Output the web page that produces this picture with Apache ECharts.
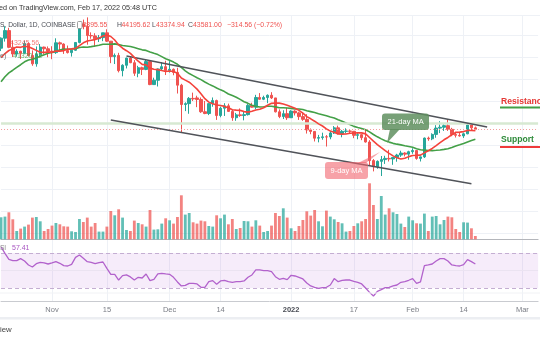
<!DOCTYPE html>
<html><head><meta charset="utf-8">
<script src="https://cdn.jsdelivr.net/npm/echarts@6/dist/echarts.min.js"></script>
<style>html,body{margin:0;padding:0;background:#fff}#c{width:540px;height:340px}</style>
</head><body><div id="c"></div><script>
// ---------- DATA ----------
const startDate = [2021, 9, 19];   // Oct 19 2021 (first visible day)
const dayCount = 138;              // days on the time axis (incl. empty right margin)
// daily candles [open, close, low, high]
const candles = [
[62000,64280,61350,64450],[64280,66000,63500,67000],[66000,62200,62000,66640],[62200,60690,60000,63700],
[60690,61300,60100,61750],[61300,60860,59550,61450],[60860,63080,60650,63700],[63080,60330,60100,63300],
[60330,58450,58000,61500],[58450,60600,57800,62400],[60600,62250,60200,62950],[62250,61870,60700,62350],
[61870,61320,59950,62400],[61320,61000,59500,62450],[61000,63220,60700,64250],[63220,62950,61600,63500],
[62950,61450,60700,63100],[61450,61000,60800,62600],[61000,61530,60100,61600],[61530,63300,61400,63300],
[63300,67550,63100,67750],[67550,66950,66300,68500],[66950,64880,62800,69000],[64880,64800,64150,65600],
[64800,64150,62300,65400],[64150,64400,63400,65000],[64400,65500,63600,65500],[65500,63600,63400,66300],
[63600,60100,58600,63600],[60100,60360,58400,60800],[60360,56900,56500,60950],[56900,58120,55600,58350],
[58120,59750,57400,59850],[59750,58700,58600,60000],[58700,56300,55700,59300],[56300,57570,55400,58000],
[57570,57170,55900,57800],[57170,58960,57000,59400],[58960,53730,53600,59150],[53730,54720,53650,55300],
[54720,57280,53300,57400],[57280,57800,57000,58850],[57800,56950,55900,59150],[56950,57200,56450,59050],
[57200,56500,55850,57400],[56500,53600,51700,57550],[53600,49200,42900,53900],[49200,49400,47700,49700],
[49400,50590,47100,50900],[50590,50470,50000,51900],[50700,50350,48600,51200],[50350,47560,47300,50800],
[47560,47150,47000,50000],[47150,49400,46800,49500],[49400,50100,48700,50800],[50100,46700,45700,50300],
[46700,48350,46300,48700],[48350,48900,46600,49500],[48900,47640,47500,49400],[47640,46200,45500,48000],
[46200,46850,45500,47300],[46850,46700,46400,48300],[46700,46900,45600,47500],[46900,49000,46700,49300],
[49000,48600,48500,49600],[48600,50800,48100,51400],[50800,50400,50300,51800],[50400,50800,50200,51200],
[50800,51300,49500,51500],[51300,50700,50450,52000],[50700,47540,47400,50700],[47540,46460,46100,48100],
[46460,47120,45900,47900],[47120,46200,45700,48500],[46200,47700,46200,47900],[47700,47300,46700,47900],
[47300,46450,45700,47550],[46450,45830,45500,47500],[45830,43430,42600,47000],[43430,43080,42450,43750],
[43080,41550,40800,43150],[41550,41680,40600,42300],[41680,41850,41200,42800],[41850,41820,39650,42250],
[41820,42730,41300,43100],[42730,43900,42500,44300],[43900,42590,42400,44400],[42590,43100,41750,43400],
[43100,43180,42650,43800],[43180,43100,42600,43500],[43100,42200,41550,43200],[42200,42350,41300,42700],
[42350,41660,41100,42550],[41660,40680,40550,43500],[40680,36460,35450,41100],[36460,35070,34000,36800],
[35070,36280,34600,36500],[36280,36680,32950,37500],[36680,36960,35700,37550],[36960,36830,36250,38900],
[36830,37170,35500,37200],[37170,37710,36200,38000],[37710,38170,37300,38700],[38170,37920,37400,38350],
[37920,38480,36650,38700],[38480,38740,38000,39250],[38740,36950,36650,38850],[36950,37300,36250,37400],
[37300,41570,37050,41700],[41570,41400,40950,41900],[41400,42410,41100,42650],[42410,43840,41650,44500],
[43840,44040,42700,45400],[44040,44390,43200,44800],[44390,43560,43200,45800],[43560,42390,42000,43900],
[42390,42200,41700,43000],[42200,42070,41900,42750],[42070,42540,41600,42800],[42540,44570,42450,44750],
[44570,43900,43300,44600],[43895.55,43581,43374.94,44195.62]
];
// closes of the 21 days before the first visible candle (needed for the moving averages)
const priorCloses = [41030,41520,43790,48140,47660,48230,49250,51490,55340,53800,53970,54970,54690,57490,56010,57370,57350,61670,60880,61530,62010];
// daily volume (arbitrary units)
const volumes = [
22,22.7,27,20,8.3,10.7,12.7,14.7,21.7,22.3,18,8.3,10.3,13.7,16.3,15,13,12.7,8,7.3,
20.3,17.3,21.7,12.7,16.3,7.7,7.7,12.7,28.3,24,30,21.7,9.3,8.3,18.7,16.3,15,12.7,29.3,9.7,
10,15.7,21,19,15.7,22.3,44,24.7,26.3,17,15.7,18.7,18,13.3,12.7,24,21,24.7,15,20.3,
10.3,11.3,18.3,18,12.7,19,13.7,7.3,8.3,13.7,26.3,23.3,31,21.7,11,8.3,13.3,19.3,28,23.7,
29.3,18,13,28.7,22.7,20,17.3,16,7.7,8.3,13.3,16,18,20.3,56,34.3,20.3,43.3,24.7,31,
27,25.3,15.7,12.3,22.7,19,16,15.7,25.7,8.3,22.7,23.3,15,19.3,22.7,22,10.3,7.3,17,16.7,
11,3.3
].map(v => v * 1000);
// RSI(14)
const rsi = [
77,69.6,62.8,61.2,61.2,63.5,60.9,56.3,54,57.8,59.3,58.6,57.4,58.6,60.1,58.2,55.5,55.1,57,65,
67.7,63.9,60.1,59.3,57.8,59,59.7,52.5,45.6,45.6,39.1,44.1,44.9,42.6,39.1,42.2,41.4,46,38.4,39.9,
46,46.8,46,45.6,42.2,36.9,32.3,33,35.3,35.3,34.6,30.8,30.8,37.2,38.4,34.2,38,38.8,37.2,36.5,
37.2,37.2,38,42.2,44.9,50.6,50.6,49.8,49.8,48.7,42.9,39.9,41,39.5,44.5,43.7,42.2,40.3,35.7,32.3,
30.8,29.6,30.4,30.8,33.4,40.7,37.2,38.8,39.1,39.1,37.6,36.5,34.6,30,25,20.8,26.2,28.1,30.4,30.8,
32.3,33.4,36.5,37.2,38.8,40.7,35.3,36.9,55.5,56.3,57.4,60.9,63.5,63.5,60.9,56.3,55.5,55.1,56.7,62.4,
60.1,57.4
];
const tickLabels = {'2021-11-01':'Nov','2021-11-15':'15','2021-12-01':'Dec','2021-12-14':'14','2022-01-01':'2022',
  '2022-01-17':'17','2022-02-01':'Feb','2022-02-14':'14','2022-03-01':'Mar'};
const channelUpper = [['2021-11-20', 60227], ['2022-02-20', 44091]];
const channelLower = [['2021-11-16', 45659], ['2022-02-16', 31182]];
const lastClose = 43581;
const levelLine = 45000;
const rsiBand = [30, 70];

// ---------- BUILD ----------
const dates = [];
for (let i = 0; i < dayCount; i++) {
  const d = new Date(Date.UTC(startDate[0], startDate[1], startDate[2] + i));
  dates.push(d.toISOString().slice(0, 10));
}
const closes = candles.map(c => c[1]);
const allCloses = priorCloses.concat(closes);
function ma(n) {
  return closes.map((_, i) => {
    const k = i + priorCloses.length;
    let s = 0;
    for (let j = k - n + 1; j <= k; j++) s += allCloses[j];
    return +(s / n).toFixed(2);
  });
}
const ma9 = ma(9), ma21 = ma(21);
const UP = '#26a69a', DOWN = '#ef5350';
const volData = volumes.map((v, i) => ({
  value: v,
  itemStyle: { color: candles[i][1] >= candles[i][0] ? 'rgba(38,166,154,0.72)' : 'rgba(239,83,80,0.72)' }
}));
const isTick = (i, v) => tickLabels[v] !== undefined;
const GRIDC = '#eef1f6';
const LEFT = 1.04, RIGHT = 1.92;

function xAx(gi, showLabels) {
  return {
    type: 'category', gridIndex: gi, data: dates, boundaryGap: false,
    axisTick: { show: false },
    axisLine: { show: gi !== 0, lineStyle: { color: gi === 1 ? '#b4b6bb' : '#c9cbd0', width: 1 } },
    axisLabel: {
      show: showLabels, interval: isTick, margin: 5, color: '#7a7d85', fontSize: 7.5,
      fontFamily: 'Liberation Sans',
      formatter: v => v === '2022-01-01' ? '{b|2022}' : (tickLabels[v] || ''),
      rich: { b: { fontWeight: 'bold', color: '#4a4d55', fontSize: 7.5, fontFamily: 'Liberation Sans' } }
    },
    splitLine: { show: true, interval: isTick, lineStyle: { color: GRIDC, width: 1 } }
  };
}

const F = 'Liberation Sans';
const txt = (x, y, text, fill, size, weight) => ({
  type: 'text', z: 100, silent: true,
  style: { x, y, text, fill, font: (weight || 'normal') + ' ' + size + 'px "' + F + '"', verticalAlign: 'middle' }
});

const option = {
  animation: false,
  grid: [
    { left: LEFT, right: RIGHT, top: 15, height: 218 },
    { left: LEFT, right: RIGHT, top: 180, height: 59.3 },
    { left: LEFT, right: RIGHT, top: 239.85, height: 61.25 }
  ],
  xAxis: [xAx(0, false), xAx(1, false), xAx(2, true)],
  yAxis: [
    { type: 'value', gridIndex: 0, min: 20000, max: 69545, interval: 5000, axisLabel: { show: false },
      axisLine: { show: false }, axisTick: { show: false }, splitLine: { lineStyle: { color: GRIDC } } },
    { type: 'value', gridIndex: 1, min: 0, max: 59300, show: false, splitLine: { show: false } },
    { type: 'value', gridIndex: 2, min: 15, max: 85, show: false, splitLine: { show: false } }
  ],
  series: [
    { type: 'bar', xAxisIndex: 1, yAxisIndex: 1, data: volData, barWidth: '72%', z: 1 },
    { type: 'candlestick', xAxisIndex: 0, yAxisIndex: 0, data: candles, barWidth: '74%', z: 3,
      itemStyle: { color: UP, color0: DOWN, borderColor: UP, borderColor0: DOWN, borderWidth: 1 },
      markLine: {
        silent: true, symbol: 'none', label: { show: false }, animation: false,
        data: [
          { yAxis: levelLine, lineStyle: { color: '#d7e9d2', width: 2.5, type: 'solid' } },
          { yAxis: lastClose, lineStyle: { color: '#f29b9b', width: 1, type: [1, 2] } },
          [{ coord: channelUpper[0], lineStyle: { color: '#505359', width: 1.5, type: 'solid' } }, { coord: channelUpper[1] }],
          [{ coord: channelLower[0], lineStyle: { color: '#505359', width: 1.5, type: 'solid' } }, { coord: channelLower[1] }]
        ]
      }
    },
    { type: 'line', xAxisIndex: 0, yAxisIndex: 0, data: ma21, symbol: 'none', z: 4,
      lineStyle: { color: '#43a047', width: 1.6 } },
    { type: 'line', xAxisIndex: 0, yAxisIndex: 0, data: ma9, symbol: 'none', z: 5,
      lineStyle: { color: '#f4433b', width: 1.6 } },
    { type: 'line', xAxisIndex: 2, yAxisIndex: 2, data: rsi, symbol: 'none', z: 5,
      lineStyle: { color: '#b262cc', width: 1.3 },
      markArea: { silent: true, itemStyle: { color: 'rgba(178,98,214,0.12)' },
        data: [[{ yAxis: rsiBand[0] }, { yAxis: rsiBand[1] }]] },
      markLine: { silent: true, symbol: 'none', label: { show: false },
        data: [
          { yAxis: rsiBand[1], lineStyle: { color: '#c4aed2', type: [4, 3], width: 1 } },
          { yAxis: rsiBand[0], lineStyle: { color: '#c4aed2', type: [4, 3], width: 1 } },
          { yAxis: 50, lineStyle: { color: '#ebe3f1', type: 'solid', width: 1 } }
        ] }
    }
  ],
  graphic: [
    { type: 'rect', z: 90, silent: true, shape: { x: 0, y: 0, width: 540, height: 15 }, style: { fill: '#fff' } },
    { type: 'line', z: 91, silent: true, shape: { x1: 0, y1: 15.5, x2: 540, y2: 15.5 }, style: { stroke: '#eef1f6', lineWidth: 1 } },
    txt(-1, 8, 'ed on TradingView.com, Feb 17, 2022 05:48 UTC', '#333', 7.2),
    txt(0, 25, 'S, Dollar, 1D, COINBASE', '#4a4d55', 6.7),
    { type: 'rect', z: 100, silent: true, shape: { x: 77.5, y: 21.5, width: 4.5, height: 7, r: 1 }, style: { fill: '#fff', stroke: '#888', lineWidth: 0.8 } },
    txt(82.5, 25, '3895.55', '#ef5350', 6.9),
    txt(117, 25, 'H', '#4a4d55', 6.9), txt(121.5, 25, '44195.62', '#ef5350', 6.9),
    txt(152, 25, 'L', '#4a4d55', 6.9), txt(156, 25, '43374.94', '#ef5350', 6.9),
    txt(188, 25, 'C', '#4a4d55', 6.9), txt(193, 25, '43581.00', '#ef5350', 6.9),
    txt(227, 25, '\u2212314.56 (\u22120.72%)', '#ef5350', 6.9),
    txt(0, 43.5, ')', '#777', 7), txt(10, 43.5, '43245.56', 'rgba(239,83,80,0.75)', 7),
    txt(0, 56, 'e)', '#777', 7), txt(13, 56, '41320.52', 'rgba(67,160,71,0.8)', 7),
    txt(0, 248, 'SI', '#888', 6.5), txt(12, 248, '57.41', '#a855c2', 7),
    // callouts
    { type: 'polygon', z: 95, silent: true, shape: { points: [[390, 129], [400, 129], [387, 143]] }, style: { fill: 'rgba(95,143,95,0.85)' } },
    { type: 'rect', z: 96, silent: true, shape: { x: 382, y: 113.5, width: 47, height: 16.5, r: 3 }, style: { fill: 'rgba(95,143,95,0.85)' } },
    txt(387.5, 122, '21-day MA', '#ffffff', 7.5),
    { type: 'polygon', z: 95, silent: true, shape: { points: [[358, 163], [366, 163], [380, 152]] }, style: { fill: 'rgba(242,100,110,0.6)' } },
    { type: 'rect', z: 96, silent: true, shape: { x: 325, y: 162, width: 43, height: 17, r: 3 }, style: { fill: 'rgba(242,100,110,0.6)' } },
    txt(330.5, 170.5, '9-day MA', '#ffffff', 7.5),
    // levels
    txt(501, 101.5, 'Resistance', '#e53935', 8.6, 'bold'),
    { type: 'line', z: 100, silent: true, shape: { x1: 500, y1: 107.5, x2: 540, y2: 107.5 }, style: { stroke: '#43a047', lineWidth: 1.8 } },
    txt(501, 140, 'Support', '#2e8b3a', 8.6, 'bold'),
    { type: 'line', z: 100, silent: true, shape: { x1: 500, y1: 147, x2: 540, y2: 147 }, style: { stroke: '#ef3b3b', lineWidth: 1.8 } },
    // pane separators / footer
    { type: 'line', z: 100, silent: true, shape: { x1: 0, y1: 293, x2: 540, y2: 293 }, style: { stroke: '#f1f2f5', lineWidth: 1 } },
    { type: 'rect', z: 100, silent: true, shape: { x: 0, y: 317, width: 540, height: 2.5 }, style: { fill: '#eceef2' } },
    txt(0, 329.5, 'iew', '#444', 7.8)
  ]
};
const chart = echarts.init(document.getElementById('c'), null, { renderer: 'canvas' });
chart.setOption(option);
</script></body></html>
